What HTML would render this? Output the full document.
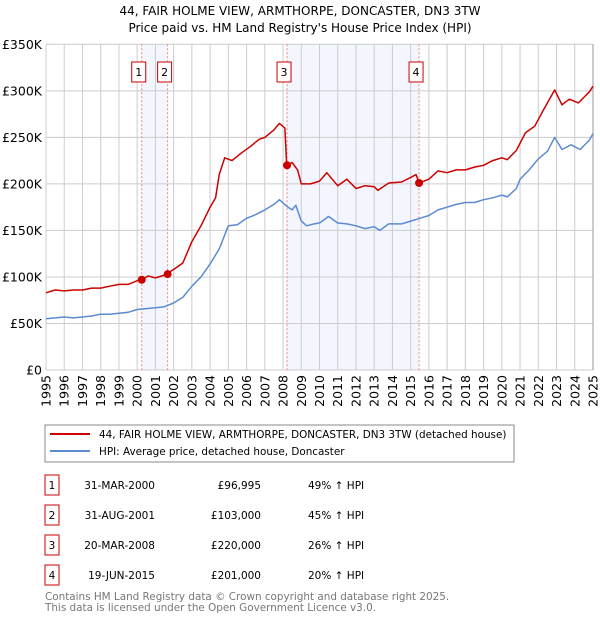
<!DOCTYPE html>
<html><head><meta charset="utf-8"><style>
body{margin:0;background:#fff;font-family:"DejaVu Sans","Liberation Sans",sans-serif;}
svg text{font-family:"DejaVu Sans","Liberation Sans",sans-serif;}
</style></head><body>
<svg id="c" width="600" height="620" viewBox="0 0 600 620" xmlns="http://www.w3.org/2000/svg">
<text x="300" y="15" text-anchor="middle" font-size="12" fill="#000">44, FAIR HOLME VIEW, ARMTHORPE, DONCASTER, DN3 3TW</text>
<text x="300" y="32" text-anchor="middle" font-size="12" fill="#000">Price paid vs. HM Land Registry's House Price Index (HPI)</text>
<g id="plot"></g>
<g>
<rect x="45" y="425" width="469" height="37" fill="#fff" stroke="#888"/>
<line x1="50" y1="434" x2="90" y2="434" stroke="#cc0000" stroke-width="2"/>
<text x="99" y="438" font-size="10.4">44, FAIR HOLME VIEW, ARMTHORPE, DONCASTER, DN3 3TW (detached house)</text>
<line x1="50" y1="451" x2="90" y2="451" stroke="#5b8bd0" stroke-width="2"/>
<text x="99" y="455" font-size="10.4">HPI: Average price, detached house, Doncaster</text>
</g>
<g id="tbl"></g>
<text x="45" y="600" font-size="10.4" fill="#777">Contains HM Land Registry data © Crown copyright and database right 2025.</text>
<text x="45" y="611" font-size="10.4" fill="#777">This data is licensed under the Open Government Licence v3.0.</text>
</svg>
<script>
const yTicks=[0,50,100,150,200,250,300,350];
const yTickLabels=["£0","£50K","£100K","£150K","£200K","£250K","£300K","£350K"];
const years=[1995,1996,1997,1998,1999,2000,2001,2002,2003,2004,2005,2006,2007,2008,2009,2010,2011,2012,2013,2014,2015,2016,2017,2018,2019,2020,2021,2022,2023,2024,2025];
const hpiT=[1995,1995.5,1996,1996.5,1997,1997.5,1998,1998.5,1999,1999.5,2000,2000.5,2001,2001.5,2002,2002.5,2003,2003.5,2004,2004.5,2005,2005.5,2006,2006.5,2007,2007.5,2007.8,2008.2,2008.5,2008.7,2009,2009.3,2009.7,2010,2010.5,2011,2011.5,2012,2012.5,2013,2013.3,2013.8,2014.5,2015,2015.5,2016,2016.5,2017,2017.5,2018,2018.5,2019,2019.5,2020,2020.3,2020.8,2021,2021.5,2022,2022.5,2022.9,2023.3,2023.8,2024.3,2024.8,2025];
const hpiV=[55,56,57,56,57,58,60,60,61,62,65,66,67,68,72,78,90,100,114,130,155,156,163,167,172,178,183,176,172,177,160,155,157,158,165,158,157,155,152,154,150,157,157,160,163,166,172,175,178,180,180,183,185,188,186,195,205,215,227,235,250,237,242,237,247,254];
const priceT=[1995,1995.5,1996,1996.5,1997,1997.5,1998,1998.5,1999,1999.5,2000,2000.25,2000.6,2001,2001.5,2002,2002.5,2003,2003.5,2004,2004.3,2004.5,2004.8,2005.2,2005.7,2006.2,2006.7,2007,2007.5,2007.8,2008.1,2008.2,2008.5,2008.8,2009,2009.5,2010,2010.4,2011,2011.5,2012,2012.5,2013,2013.2,2013.8,2014.5,2015,2015.3,2015.46,2016,2016.5,2017,2017.5,2018,2018.5,2019,2019.5,2020,2020.3,2020.8,2021.3,2021.8,2022.3,2022.9,2023.3,2023.7,2024.2,2024.8,2025];
const priceV=[83,86,85,86,86,88,88,90,92,92,96,97,101,99,102,108,115,138,155,175,185,210,228,225,233,240,248,250,258,265,260,220,223,215,200,200,203,212,198,205,195,198,197,193,201,202,207,210,201,205,214,212,215,215,218,220,225,228,226,236,255,262,280,301,285,291,287,299,305];
const saleT=[2000.25,2001.67,2008.22,2015.46];
const saleV=[96.995,103,220,201];
const saleLabels=["1","2","3","4"];
const saleDates=["31-MAR-2000","31-AUG-2001","20-MAR-2008","19-JUN-2015"];
const salePrices=["£96,995","£103,000","£220,000","£201,000"];
const saleHpi=["49% ↑ HPI","45% ↑ HPI","26% ↑ HPI","20% ↑ HPI"];

const X0=46,X1=593,Y0=370,Y1=44.3;
const x=t=>X0+(t-1995)/(2025-1995)*(X1-X0);
const y=v=>Y0-v/350*(Y0-Y1);
const NS="http://www.w3.org/2000/svg";
const plot=document.getElementById('plot');
function mk(tag,attrs,parent){const e=document.createElementNS(NS,tag);for(const k in attrs)e.setAttribute(k,attrs[k]);(parent||plot).appendChild(e);return e;}

for(const [a,b] of [[0,1],[2,3]]){
  const r=mk('rect',{x:x(saleT[a]),y:Y1,width:x(saleT[b])-x(saleT[a]),height:Y0-Y1,fill:'#f3f6fe'});
  
  
}
years.forEach((yr,i)=>{
  const l=mk('line',{x1:x(yr),x2:x(yr),y1:Y1,y2:Y0,stroke:'#ccc','stroke-width':1});
  
  
  const tx=x(yr)+4.5,ty=Y0+5;
  const t=mk('text',{x:tx,y:ty,'font-size':12.5,'text-anchor':'end',transform:`rotate(-90 ${tx} ${ty})`});
  t.textContent=yr;
  
  
});
yTicks.forEach((v,i)=>{
  const l=mk('line',{x1:X0,x2:X1,y1:y(v),y2:y(v),stroke:'#ccc','stroke-width':1});
  
  
  const t=mk('text',{x:X0-4,y:y(v)+4.5,'font-size':12.5,'text-anchor':'end'});
  t.textContent=yTickLabels[i];
  
  
});
const rb=mk('line',{x1:X1,x2:X1,y1:Y1,y2:Y0,stroke:'#999','stroke-width':1});


saleT.forEach((t,i)=>{
  const l=mk('line',{x1:x(t),x2:x(t),y1:Y1,y2:Y0,stroke:'#f08080','stroke-width':1,'stroke-dasharray':'2,2'});
  
  
  const bx=x(t)-3;
  const r=mk('rect',{x:bx-7,y:62,width:14,height:20,fill:'#fff',stroke:'#cc0000'});
  
  
  const tx=mk('text',{x:bx,y:76,'font-size':11,'text-anchor':'middle'});
  tx.textContent=saleLabels[i];
  
  
});
function path(T,V,color,name){
  const d=T.map((t,i)=>(i?'L':'M')+x(t).toFixed(1)+','+y(V[i]).toFixed(1)).join('');
  const p=mk('path',{d:d,fill:'none',stroke:color,'stroke-width':1.5,'stroke-linejoin':'round'});
  
  
}
path(hpiT,hpiV,'#5b8bd0','hpi-line');
path(priceT,priceV,'#cc0000','price-line');
saleT.forEach((t,i)=>{
  const c=mk('circle',{cx:x(t),cy:y(saleV[i]),r:4,fill:'#cc0000'});
  
  
});
const tbl=document.getElementById('tbl');
const rowY=[485,515,545,575];
saleLabels.forEach((s,i)=>{
  const yy=rowY[i];
  const r=mk('rect',{x:45,y:yy-10,width:14,height:20,fill:'#fff',stroke:'#cc0000'},tbl);
  
  
  const cells=[[52,s,'middle'],[155,saleDates[i],'end'],[261,salePrices[i],'end'],[308,saleHpi[i],'start']];
  cells.forEach(c=>{
    const t=mk('text',{x:c[0],y:yy+4,'font-size':10.5,'text-anchor':c[2]},tbl);
    t.textContent=c[1];
    
    
  });
});
</script>
</body></html>
